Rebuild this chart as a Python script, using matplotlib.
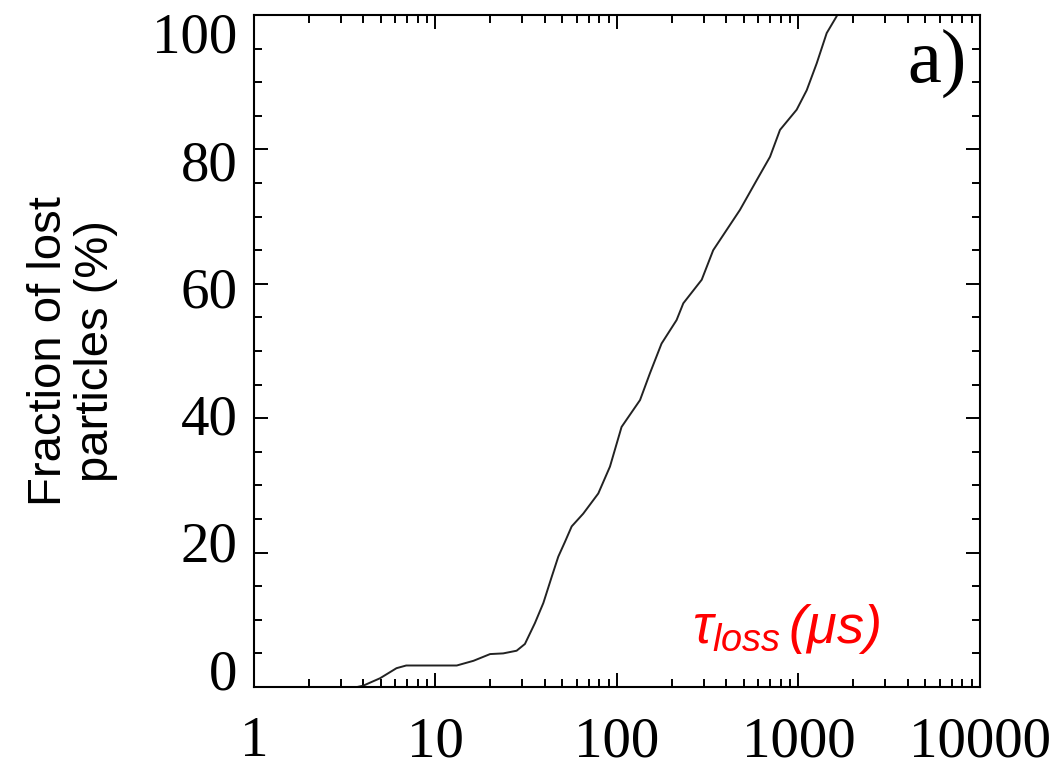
import matplotlib
matplotlib.use("Agg")
import matplotlib.pyplot as plt
import matplotlib.transforms as mtransforms
from matplotlib.ticker import FixedLocator, MultipleLocator, NullFormatter

# loss time (us) vs cumulative fraction of lost particles (%)
tau_us = [3.3, 4.0, 4.95, 6.1, 6.9, 13.1, 16.2, 20, 23.6, 28, 31.1, 35.3, 39.3,
          43.7, 47.5, 51.7, 56.3, 65.2, 78.9, 91.5, 106, 134, 152, 176, 213,
          232, 293, 339, 476, 588, 697, 791, 977, 1110, 1260, 1430, 1622, 1700]
lost_pct = [-0.3, 0.2, 1.3, 2.8, 3.2, 3.2, 3.9, 4.9, 5.0, 5.4, 6.4, 9.5, 12.5,
            16.4, 19.4, 21.6, 23.9, 25.8, 28.8, 32.8, 38.7, 42.7, 46.7, 51.1, 54.6,
            57.1, 60.6, 65.0, 71.0, 75.4, 78.9, 82.9, 85.9, 88.8, 92.8, 97.3, 99.8, 101]

x_ticks = [1, 10, 100, 1000, 10000]
x_tick_labels = ['1', '10', '100', '1000', '10000']
y_ticks = [0, 20, 40, 60, 80, 100]

plt.rcParams['mathtext.fontset'] = 'custom'
plt.rcParams['mathtext.it'] = 'Liberation Sans:italic'
plt.rcParams['mathtext.rm'] = 'Liberation Sans:italic'

fig = plt.figure(figsize=(10.59, 7.72), dpi=100)
ax = fig.add_axes([0.2398, 0.1101, 0.6856, 0.8705])

ax.plot(tau_us, lost_pct, color='#222222', lw=1.4)

ax.set_xscale('log')
ax.set_xlim(1, 10000)
ax.set_ylim(0, 100)

ax.set_xticks(x_ticks)
ax.set_xticklabels(x_tick_labels)
ax.xaxis.set_minor_locator(FixedLocator([m * d for d in [1, 10, 100, 1000] for m in range(2, 10)]))
ax.xaxis.set_minor_formatter(NullFormatter())
ax.set_yticks(y_ticks)
ax.yaxis.set_minor_locator(MultipleLocator(5))

for s in ax.spines.values():
    s.set_linewidth(1.5)
ax.tick_params(which='both', direction='in', top=True, right=True, width=1.4)
ax.tick_params(which='major', length=10)
ax.tick_params(which='minor', length=6)
ax.tick_params(axis='x', which='major', pad=21)
ax.tick_params(axis='y', which='major', pad=12)
for lab in ax.get_xticklabels() + ax.get_yticklabels():
    lab.set_fontfamily('Liberation Serif')
    lab.set_fontsize(41)

# pull the end labels (0 and 100) inside the axis span
for tick, v in zip(ax.yaxis.get_major_ticks(), y_ticks):
    dy = -(v - 50) / 50 * 18 / 100
    off = mtransforms.ScaledTranslation(0, dy, fig.dpi_scale_trans)
    tick.label1.set_transform(tick.label1.get_transform() + off)

ax.set_ylabel('Fraction of lost\nparticles (%)', fontfamily='Liberation Sans',
              fontsize=34, linespacing=1.1)
ax.yaxis.set_label_coords(-0.187, 0.5)

ax.text(0.982, 0.900, 'a)', transform=ax.transAxes, ha='right', va='baseline',
        fontfamily='Liberation Serif', fontsize=55)
ax.text(0.603, 0.066, r'$\tau_{loss}\,(\mu s)$', transform=ax.transAxes,
        ha='left', va='baseline', color='#ff0000', fontsize=39)

fig.savefig('out.png', dpi=100)
